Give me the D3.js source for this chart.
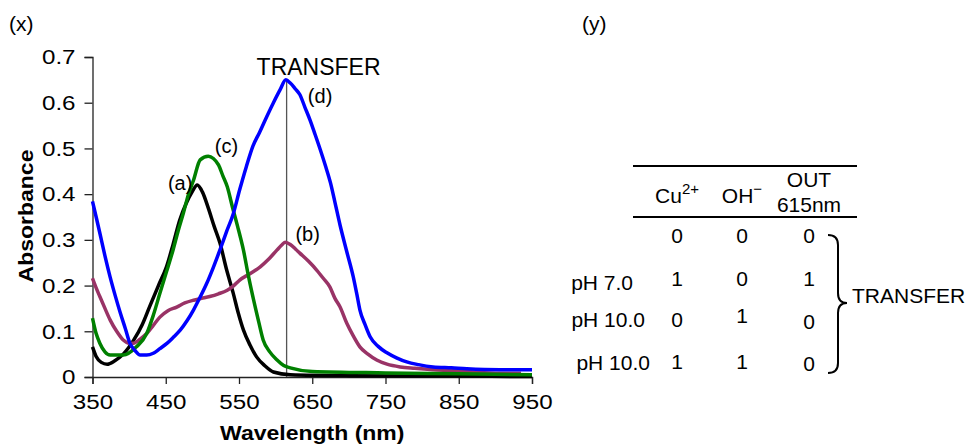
<!DOCTYPE html>
<html>
<head>
<meta charset="utf-8">
<script src="https://cdn.jsdelivr.net/npm/d3@7"></script>
<style>
  body { margin: 0; background: #fff; }
  svg { display: block; font-family: Arial, "Liberation Sans", sans-serif; }
</style>
</head>
<body>
<svg id="drawing_region"></svg>
<script>
// spectra: [wavelength nm, absorbance]
const curveA = [[350,0.066],[355,0.045],[362,0.032],[370,0.028],[380,0.035],[392,0.05],[406,0.08],[418,0.115],[428,0.154],[440,0.2],[451,0.241],[460,0.29],[469,0.343],[478,0.38],[486,0.405],[493,0.42],[500,0.405],[508,0.37],[516,0.33],[524,0.293],[533,0.235],[542,0.184],[549,0.14],[556,0.103],[565,0.07],[574,0.044],[585,0.025],[597,0.011],[620,0.005],[700,0.003],[850,0.002],[950,0.001]];
const curveB = [[350,0.216],[355,0.195],[360,0.176],[367,0.15],[374,0.125],[383,0.1],[392,0.081],[400,0.074],[406,0.074],[415,0.083],[424,0.095],[433,0.113],[442,0.131],[453,0.145],[465,0.153],[476,0.162],[488,0.168],[499,0.172],[510,0.176],[522,0.182],[534,0.19],[543,0.2],[551,0.212],[565,0.226],[579,0.241],[590,0.257],[602,0.278],[608,0.288],[613,0.295],[620,0.29],[627,0.28],[633,0.271],[645,0.253],[656,0.234],[665,0.216],[674,0.197],[681,0.172],[688,0.153],[697,0.118],[706,0.09],[715,0.066],[726,0.05],[738,0.037],[752,0.028],[770,0.022],[790,0.019],[815,0.016],[840,0.014],[861,0.012],[906,0.008],[935,0.008]];
const curveC = [[350,0.129],[355,0.095],[360,0.074],[367,0.055],[374,0.048],[392,0.048],[410,0.066],[424,0.095],[433,0.135],[442,0.183],[451,0.23],[460,0.278],[467,0.32],[474,0.358],[481,0.4],[488,0.431],[497,0.475],[508,0.483],[515,0.478],[522,0.464],[528,0.44],[534,0.416],[541,0.372],[548,0.33],[556,0.278],[563,0.22],[570,0.168],[577,0.12],[583,0.081],[592,0.055],[602,0.037],[611,0.025],[620,0.02],[650,0.012],[750,0.009],[850,0.007],[950,0.005]];
const curveD = [[350,0.384],[355,0.35],[360,0.315],[367,0.265],[374,0.219],[381,0.178],[388,0.14],[395,0.105],[401,0.074],[408,0.058],[415,0.048],[424,0.048],[433,0.052],[442,0.062],[452,0.074],[461,0.088],[470,0.103],[479,0.123],[488,0.147],[497,0.175],[506,0.205],[515,0.24],[524,0.278],[533,0.318],[542,0.356],[551,0.41],[560,0.46],[569,0.505],[578,0.535],[588,0.57],[597,0.6],[606,0.628],[614,0.65],[620,0.643],[627,0.63],[633,0.618],[640,0.59],[647,0.562],[654,0.53],[661,0.497],[668,0.462],[675,0.424],[681,0.382],[688,0.332],[697,0.275],[706,0.219],[711,0.18],[715,0.147],[722,0.115],[729,0.088],[740,0.067],[752,0.053],[765,0.042],[779,0.033],[795,0.027],[815,0.022],[840,0.02],[861,0.018],[906,0.016],[950,0.016]];

const seriesNames = ["(a)", "(b)", "(c)", "(d)"];
const seriesColors = ["#000000", "#993366", "#008000", "#0000ff"];
const xTicks = [350, 450, 550, 650, 750, 850, 950];
const yTicks = [0, 0.1, 0.2, 0.3, 0.4, 0.5, 0.6, 0.7];
const markerWavelength = 615;

// truth table (y)
const tableHeaders = ["Cu", "OH", "OUT"];
const rowLabels = ["", "pH 7.0", "pH 10.0", "pH 10.0"];
const cuValues = [0, 1, 0, 1];
const ohValues = [0, 0, 1, 1];
const outValues = [0, 1, 0, 0];

const W = 971, H = 445;
const SX = 1.15; // the original lettering is a bit wide
const margin = {top: 57, left: 92.5};
const innerW = 439.5, innerH = 320;

const svg = d3.select('#drawing_region')
    .attr('width', W)
    .attr('height', H);

// text squeezed out a little horizontally, like the picture
function wideText(parent, x, y, str, size, anchor) {
    return parent.append('text')
        .attr('transform', `translate(${x}, ${y}) scale(${SX}, 1)`)
        .attr('font-size', size)
        .attr('text-anchor', anchor || 'start')
        .text(str);
}

const chart = svg.append('g')
    .attr('transform', `translate(${margin.left}, ${margin.top})`);

const xscale = d3.scaleLinear().domain([350, 950]).range([0, innerW]);
const yscale = d3.scaleLinear().domain([0, 0.7]).range([innerH, 0]);

// axes
const xaxis = d3.axisBottom(xscale).tickValues(xTicks).tickSize(7).tickPadding(10).tickFormat(d3.format('d'));
const yaxis = d3.axisLeft(yscale).tickValues(yTicks).tickSize(8).tickPadding(9).tickFormat(d => d === 0 ? '0' : d3.format('.1f')(d));

const xg = chart.append('g').attr('transform', `translate(0, ${innerH})`).call(xaxis);
const yg = chart.append('g').call(yaxis);
[xg, yg].forEach(g => {
    g.selectAll('path,line').attr('stroke', '#222').attr('stroke-width', 1.3);
    g.selectAll('text')
        .attr('font-size', 21).attr('fill', '#000')
        .attr('font-family', 'Arial, "Liberation Sans", sans-serif')
        .attr('transform', `scale(${SX}, 1)`);
});
yg.selectAll('text').attr('x', -17 / SX);

// marker line at 615 nm
chart.append('line')
    .attr('x1', xscale(markerWavelength)).attr('x2', xscale(markerWavelength))
    .attr('y1', yscale(0.652)).attr('y2', innerH)
    .attr('stroke', '#555').attr('stroke-width', 1.3);

const line = d3.line()
    .x(d => xscale(d[0]))
    .y(d => yscale(d[1]))
    .curve(d3.curveMonotoneX);

[curveA, curveB, curveC, curveD].forEach((c, i) => {
    chart.append('path')
        .datum(c)
        .attr('fill', 'none')
        .attr('stroke', seriesColors[i])
        .attr('stroke-width', 3.5)
        .attr('stroke-linejoin', 'round')
        .attr('d', line);
});

// curve labels
const labelPos = [[453, 0.409], [627, 0.298], [517, 0.49], [644, 0.6]];
seriesNames.forEach((n, i) => {
    chart.append('text')
        .attr('x', xscale(labelPos[i][0]))
        .attr('y', yscale(labelPos[i][1]))
        .attr('font-size', 20)
        .text(n);
});

chart.append('text')
    .attr('x', xscale(574)).attr('y', yscale(0.66))
    .attr('font-size', 23)
    .text('TRANSFER');

// axis titles
wideText(svg, margin.left + innerW / 2, 440, 'Wavelength (nm)', 20, 'middle')
    .attr('font-weight', 'bold');

svg.append('text')
    .attr('transform', `translate(33, 216) rotate(-90) scale(${SX}, 1)`)
    .attr('text-anchor', 'middle')
    .attr('font-size', 20).attr('font-weight', 'bold')
    .text('Absorbance');

svg.append('text').attr('x', 9).attr('y', 31).attr('font-size', 21).text('(x)');
svg.append('text').attr('x', 582).attr('y', 31).attr('font-size', 21).text('(y)');

// table (y)
const tbl = svg.append('g').attr('font-size', 21);
const colX = [677, 742, 809];
tbl.append('line').attr('x1', 633).attr('x2', 857).attr('y1', 166).attr('y2', 166).attr('stroke', '#000').attr('stroke-width', 2);
tbl.append('line').attr('x1', 633).attr('x2', 857).attr('y1', 217).attr('y2', 217).attr('stroke', '#000').attr('stroke-width', 2);

const cu = tbl.append('text').attr('x', colX[0]).attr('y', 203).attr('text-anchor', 'middle');
cu.append('tspan').text(tableHeaders[0]);
cu.append('tspan').attr('dy', -9).attr('font-size', 15).text('2+');
const oh = tbl.append('text').attr('x', colX[1]).attr('y', 203).attr('text-anchor', 'middle');
oh.append('tspan').text(tableHeaders[1]);
oh.append('tspan').attr('dy', -9).attr('font-size', 15).text('\u2212');
tbl.append('text').attr('x', colX[2]).attr('y', 187).attr('text-anchor', 'middle').text(tableHeaders[2]);
tbl.append('text').attr('x', colX[2]).attr('y', 212).attr('text-anchor', 'middle').text('615nm');

const rowY = [243, 286, 327, 369];
const rowLabelX = [0, 633, 645, 650];
const rowLabelY = [0, 290, 327, 370];
rowLabels.forEach((r, i) => {
    if (r) tbl.append('text').attr('x', rowLabelX[i]).attr('y', rowLabelY[i]).attr('text-anchor', 'end').text(r);
    tbl.append('text').attr('x', colX[0]).attr('y', rowY[i]).attr('text-anchor', 'middle').text(cuValues[i]);
    tbl.append('text').attr('x', colX[1]).attr('y', rowY[i] - (i === 2 ? 4 : 0)).attr('text-anchor', 'middle').text(ohValues[i]);
    tbl.append('text').attr('x', colX[2]).attr('y', rowY[i] + (i >= 2 ? 2 : 0)).attr('text-anchor', 'middle').text(outValues[i]);
});

// brace
tbl.append('path')
    .attr('d', 'M828,235 Q838,235 838,245 L838,293 Q838,303 847,303 Q838,303 838,313 L838,363 Q838,373 828,373')
    .attr('fill', 'none').attr('stroke', '#000').attr('stroke-width', 2);
tbl.append('text').attr('x', 852).attr('y', 303).text('TRANSFER');
</script>
</body>
</html>
